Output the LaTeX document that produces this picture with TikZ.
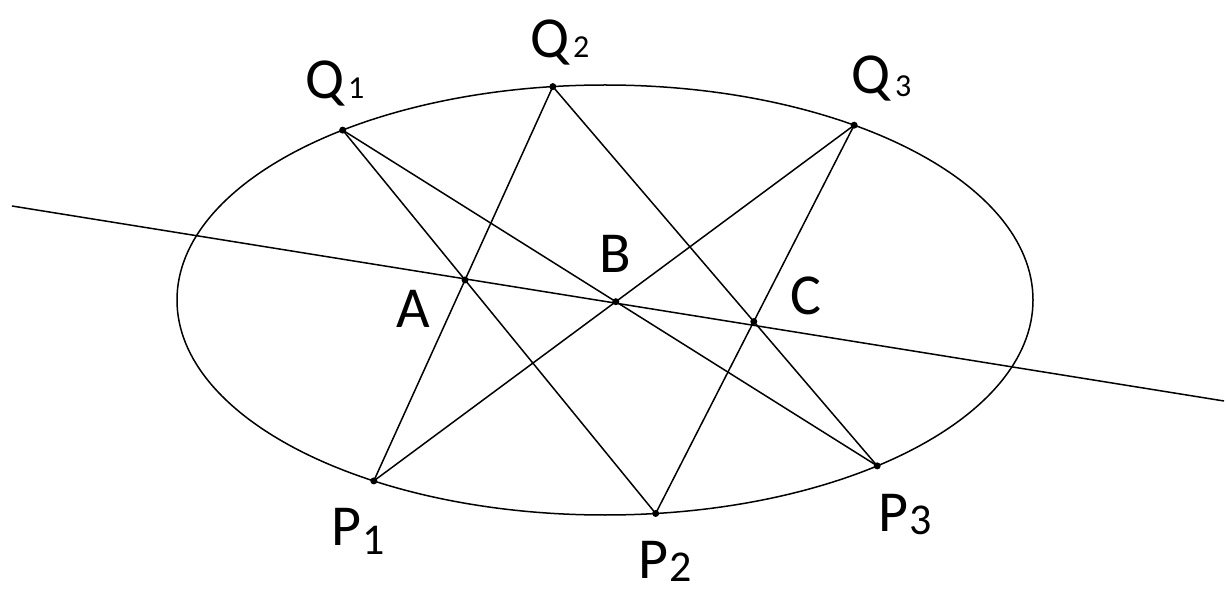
\documentclass[tikz,border=0pt]{standalone}
\usepackage{fontspec}
\setmainfont{Carlito}
\newcommand{\subq}{\fontsize{32}{32}\selectfont}
\newcommand{\subp}{\fontsize{44}{44}\selectfont}
\begin{document}
\begin{tikzpicture}[x=1pt,y=-1pt,
  thinline/.style={line width=1.5pt},
  dot/.style={circle,fill=black,inner sep=0pt,minimum size=7pt},
  lab/.style={inner sep=0pt,anchor=base west,font=\fontsize{58}{60}\selectfont}]
\useasboundingbox[fill=white] (0,0) rectangle (1226,593);
% ellipse
\coordinate (O) at (605,300);
\draw[thinline] (O) ellipse [x radius=428, y radius=215];
% points on the ellipse
\coordinate (Q1) at ({605+428*cos(127.8)},{300-215*sin(127.8)});
\coordinate (Q2) at ({605+428*cos(97.0)},{300-215*sin(97.0)});
\coordinate (Q3) at ({605+428*cos(54.4)},{300-215*sin(54.4)});
\coordinate (P1) at ({605+428*cos(237.3)},{300-215*sin(237.3)});
\coordinate (P2) at ({605+428*cos(276.8)},{300-215*sin(276.8)});
\coordinate (P3) at ({605+428*cos(309.5)},{300-215*sin(309.5)});
% chords
\draw[thinline] (Q1) -- (P2);
\draw[thinline] (Q1) -- (P3);
\draw[thinline] (Q2) -- (P1);
\draw[thinline] (Q2) -- (P3);
\draw[thinline] (Q3) -- (P1);
\draw[thinline] (Q3) -- (P2);
% Pascal points
\coordinate (A) at (intersection of Q1--P2 and Q2--P1);
\coordinate (B) at (intersection of Q1--P3 and Q3--P1);
\coordinate (C) at (intersection of Q2--P3 and Q3--P2);
% Pascal line
\coordinate (L) at (12,206);
\coordinate (R) at (1224,401);
\draw[thinline] (L) -- (R);
% dots
\foreach \p in {Q1,Q2,Q3,P1,P2,P3,A,B,C}
  \node[dot] (d\p) at (\p) {};
% labels
\node[lab] (lQ1) at (305,99) {Q\kern4pt{\subq 1}};
\node[lab] (lQ2) at (530,58) {Q\kern4pt{\subq 2}};
\node[lab] (lQ3) at (851,94) {Q\kern5pt\raisebox{-3pt}{\subq 3}};
\node[lab] (lP1) at (331,545) {P\kern1pt\raisebox{-9pt}{\subp 1}};
\node[lab] (lP2) at (638,578) {P\kern1pt\raisebox{-3pt}{\subp 2}};
\node[lab] (lP3) at (878,531) {P\kern1pt\raisebox{-3pt}{\subp 3}};
\node[lab] (lA) at (396,328) {A};
\node[lab] (lB) at (599,273) {B};
\node[lab] (lC) at (790,315) {C};
\end{tikzpicture}
\end{document}
